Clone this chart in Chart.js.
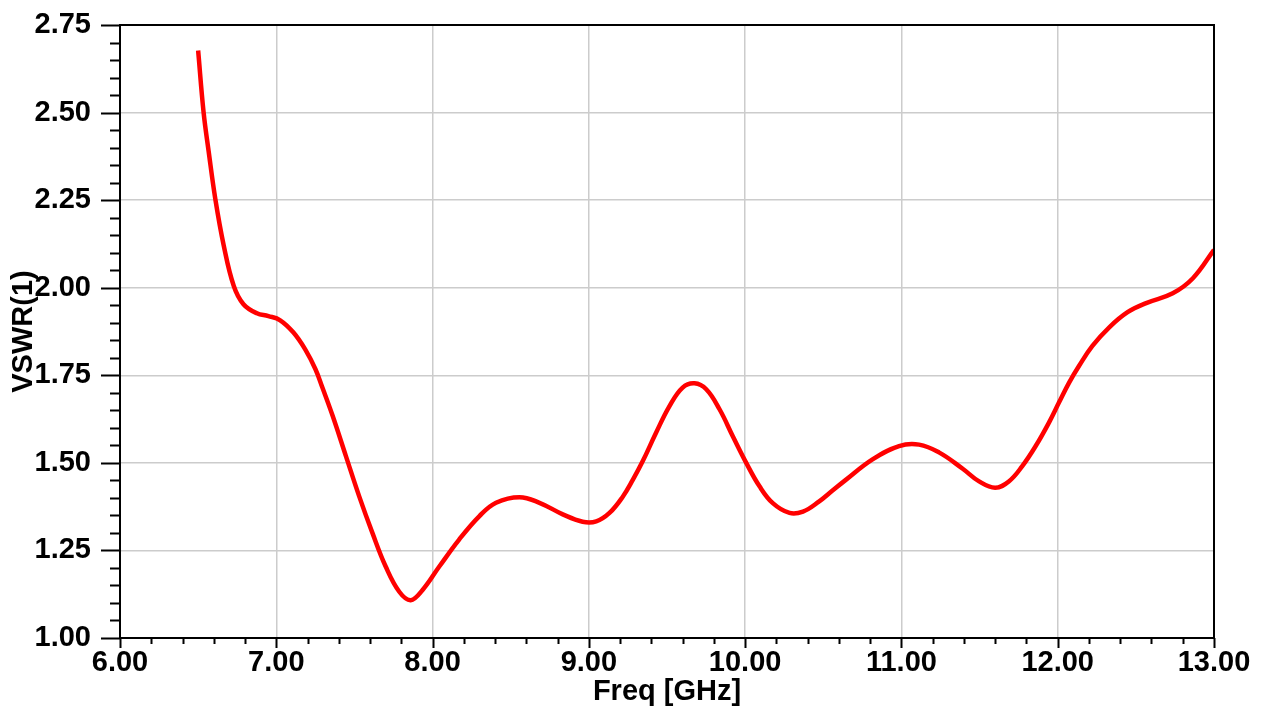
<!DOCTYPE html>
<html>
<head>
<meta charset="utf-8">
<script src="https://cdn.jsdelivr.net/npm/chart.js@4"></script>
<style>
  html, body { margin: 0; padding: 0; background: #fff; }
  #wrap { width: 1268px; height: 709px; }
</style>
</head>
<body>
<div id="wrap"><canvas id="chart" width="1268" height="709"></canvas></div>
<script>
// values
const freqGHz = [
  6.50, 6.535, 6.567, 6.61, 6.664, 6.728, 6.79, 6.876, 6.95, 7.025,
  7.11, 7.185, 7.25, 7.295, 7.36, 7.445, 7.53, 7.615, 7.70, 7.787,
  7.86, 7.936, 8.043, 8.17, 8.30, 8.406, 8.556, 8.684, 8.833, 8.96,
  9.047, 9.132, 9.218, 9.282, 9.345, 9.43, 9.516, 9.60, 9.676, 9.751,
  9.836, 9.921, 10.007, 10.092, 10.177, 10.284, 10.37, 10.474, 10.54, 10.64,
  10.815, 10.985, 11.113, 11.24, 11.39, 11.497, 11.60, 11.687, 11.772, 11.859,
  11.944, 12.008, 12.073, 12.137, 12.222, 12.33, 12.447, 12.566, 12.736, 12.865,
  13.00
];
const vswr = [
  2.677, 2.50, 2.39, 2.253, 2.12, 2.005, 1.953, 1.927, 1.919, 1.907,
  1.872, 1.824, 1.768, 1.715, 1.635, 1.52, 1.405, 1.30, 1.204, 1.132,
  1.108, 1.137, 1.204, 1.281, 1.348, 1.386, 1.402, 1.386, 1.353, 1.332,
  1.333, 1.357, 1.404, 1.452, 1.505, 1.586, 1.662, 1.715, 1.727, 1.71,
  1.653, 1.576, 1.50, 1.433, 1.385, 1.357, 1.361, 1.39, 1.414, 1.45,
  1.51, 1.548, 1.552, 1.53, 1.484, 1.447, 1.429, 1.447, 1.49, 1.548,
  1.615, 1.672, 1.729, 1.777, 1.834, 1.887, 1.93, 1.956, 1.984, 2.027,
  2.108
];
const xRange = [6, 13];
const yRange = [1, 2.75];
const xTitle = "Freq [GHz]";
const yTitle = "VSWR(1)";

const tickFont = { family: "'Liberation Sans', Arial, sans-serif", size: 29, weight: "bold" };

// frame, major and minor tick marks
const framePlugin = {
  id: "frame",
  afterDraw(chart) {
    const { ctx, chartArea: a, scales } = chart;
    const x = scales.x, y = scales.y;
    ctx.save();
    ctx.strokeStyle = "#000";
    ctx.lineWidth = 2;
    ctx.strokeRect(a.left, a.top, a.right - a.left, a.bottom - a.top);
    ctx.beginPath();
    // y ticks: step 0.05, major every 0.25
    for (let i = 0; i <= 35; i++) {
      const py = Math.round(y.getPixelForValue(yRange[0] + i * 0.05)) + 0.5;
      const len = i % 5 === 0 ? 19 : 10;
      ctx.moveTo(a.left, py);
      ctx.lineTo(a.left - len, py);
    }
    // x ticks: step 0.2, major every 1
    for (let i = 0; i <= 35; i++) {
      const px = Math.round(x.getPixelForValue(xRange[0] + i * 0.2)) + 0.5;
      const len = i % 5 === 0 ? 10 : 6;
      ctx.moveTo(px, a.bottom);
      ctx.lineTo(px, a.bottom + len);
    }
    ctx.stroke();
    ctx.restore();
  }
};

const ctx = document.getElementById("chart").getContext("2d");
new Chart(ctx, {
  type: "line",
  data: {
    datasets: [
      {
        label: yTitle,
        data: freqGHz.map((f, i) => ({ x: f, y: vswr[i] })),
        borderColor: "#ff0000",
        borderWidth: 4.5,
        pointRadius: 0,
        fill: false,
        tension: 0.4,
      },
    ],
  },
  options: {
    responsive: false,
    animation: false,
    devicePixelRatio: 1,
    layout: { padding: { top: 25, right: 54, bottom: 0, left: 0 } },
    plugins: { legend: { display: false }, tooltip: { enabled: false } },
    scales: {
      x: {
        type: "linear",
        min: xRange[0],
        max: xRange[1],
        afterFit: (s) => { s.height = 71; s.paddingLeft = 0; s.paddingRight = 0; },
        ticks: {
          stepSize: 1,
          maxRotation: 0,
          autoSkip: false,
          padding: 8,
          color: "#000",
          font: tickFont,
          callback: (v) => Number(v).toFixed(2),
        },
        grid: { color: "#cccccc", lineWidth: 1.5, drawTicks: false },
        border: { display: true, color: "#000", width: 2 },
        title: { display: true, text: xTitle, color: "#000", font: tickFont, padding: { top: 3, bottom: 0 } },
      },
      y: {
        min: yRange[0],
        max: yRange[1],
        afterFit: (s) => { s.width = 120; s.paddingTop = 0; s.paddingBottom = 0; },
        ticks: {
          stepSize: 0.25,
          padding: 29,
          color: "#000",
          font: tickFont,
          callback: (v) => Number(v).toFixed(2),
        },
        grid: { color: "#cccccc", lineWidth: 1.5, drawTicks: false },
        border: { display: true, color: "#000", width: 2 },
        title: { display: true, text: yTitle, color: "#000", font: tickFont, padding: { top: 7, bottom: 0 } },
      },
    },
  },
  plugins: [framePlugin],
});
</script>
</body>
</html>
